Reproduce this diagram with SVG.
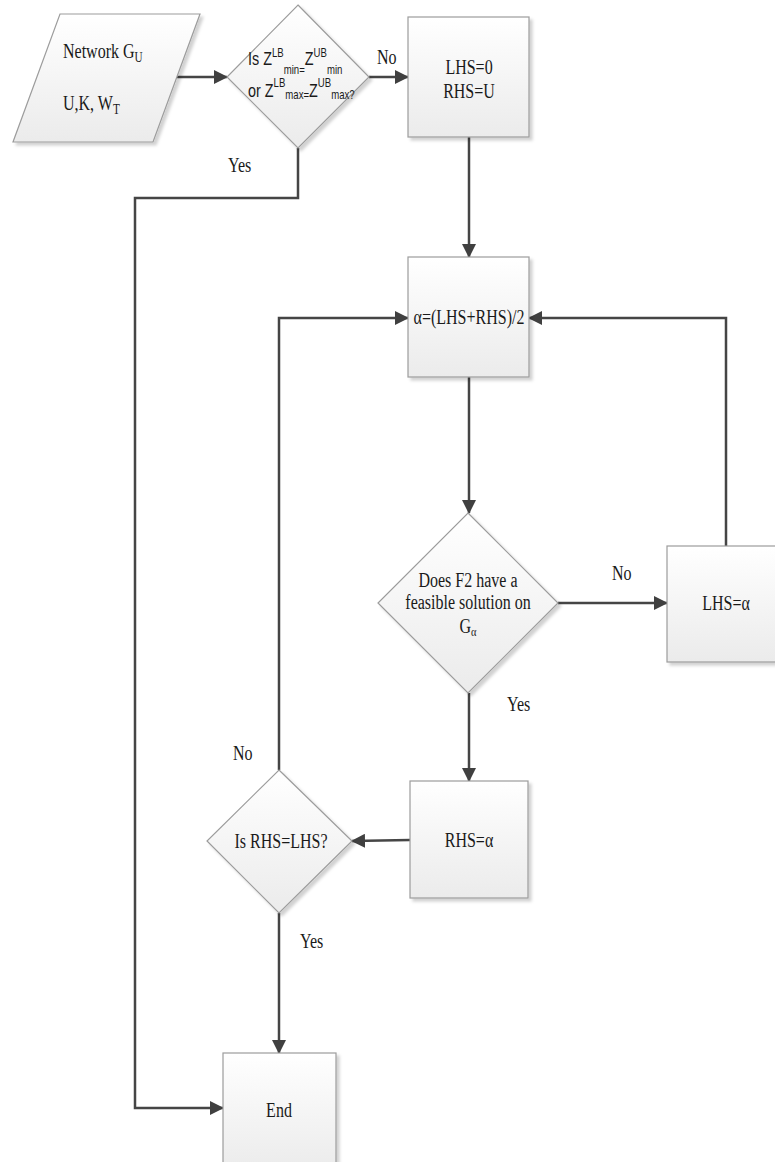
<svg xmlns="http://www.w3.org/2000/svg" width="775" height="1162" viewBox="0 0 775 1162">
<style>
.shape{fill:url(#g);stroke:#9c9c9c;stroke-width:1.2;filter:url(#sh)}
.t{font-family:"Liberation Serif","Times New Roman",serif;font-size:20px;fill:#1a1a1a}
.s{font-family:"Liberation Sans",Arial,sans-serif;font-size:18px;fill:#1a1a1a}
.c{fill:none;stroke:#454545;stroke-width:2.5}
</style>
<defs>
<linearGradient id="g" x1="0" y1="0" x2="0" y2="1">
<stop offset="0" stop-color="#ffffff"/>
<stop offset="1" stop-color="#ebebeb"/>
</linearGradient>
<filter id="sh" x="-10%" y="-10%" width="130%" height="130%">
<feDropShadow dx="3" dy="3" stdDeviation="1.5" flood-color="#000" flood-opacity="0.18"/>
</filter>
<marker id="arr" markerWidth="14" markerHeight="14" refX="13" refY="7" orient="auto" markerUnits="userSpaceOnUse">
<path d="M0,0 L14,7 L0,14 z" fill="#404040"/>
</marker>
</defs>

<g id="connectors">
<path class="c" d="M176,77 L227,77" marker-end="url(#arr)"/>
<path class="c" d="M369,77 L408,77" marker-end="url(#arr)"/>
<path class="c" d="M469,137 L469,257" marker-end="url(#arr)"/>
<path class="c" d="M469,377 L469,513" marker-end="url(#arr)"/>
<path class="c" d="M558,603 L667,603" marker-end="url(#arr)"/>
<path class="c" d="M726,546 L726,318 L529,318" marker-end="url(#arr)"/>
<path class="c" d="M469,693 L469,781" marker-end="url(#arr)"/>
<path class="c" d="M410,840 L352,841" marker-end="url(#arr)"/>
<path class="c" d="M279,770 L279,318 L408,318" marker-end="url(#arr)"/>
<path class="c" d="M279,913 L279,1053" marker-end="url(#arr)"/>
<path class="c" d="M298,148 L298,198 L135,198 L135,1108 L223,1108" marker-end="url(#arr)"/>
<text class="t" transform="translate(377,64) scale(0.8,1)">No</text>
<text class="t" transform="translate(228,172) scale(0.8,1)">Yes</text>
<text class="t" transform="translate(612,580) scale(0.8,1)">No</text>
<text class="t" transform="translate(507,711) scale(0.8,1)">Yes</text>
<text class="t" transform="translate(233,760) scale(0.8,1)">No</text>
<text class="t" transform="translate(300,948) scale(0.8,1)">Yes</text>
</g>

<g id="input">
<polygon class="shape" points="60,14 200,14 153,142 13,142"/>
<text class="t" transform="translate(63,58) scale(0.8,1)">Network G<tspan font-size="14" dy="4">U</tspan></text>
<text class="t" transform="translate(63,110) scale(0.8,1)">U,K, W<tspan font-size="14" dy="4">T</tspan></text>
</g>

<g id="decision1">
<polygon class="shape" points="298,5 369,77 298,148 227,77"/>
<text class="s" transform="translate(248,65) scale(0.8,1)">Is Z<tspan font-size="12" dy="-8">LB</tspan><tspan font-size="12" dy="17">min=</tspan><tspan dy="-9">Z</tspan><tspan font-size="12" dy="-8">UB</tspan><tspan font-size="12" dy="17">min</tspan></text>
<text class="s" transform="translate(248,97) scale(0.8,1)">or Z<tspan font-size="12" dy="-10">LB</tspan><tspan font-size="12" dy="12">max=</tspan><tspan dy="-2">Z</tspan><tspan font-size="12" dy="-10">UB</tspan><tspan font-size="12" dy="12">max?</tspan></text>
</g>

<g id="init">
<rect class="shape" x="408" y="17" width="121" height="120"/>
<text class="t" text-anchor="middle" transform="translate(469,74) scale(0.8,1)">LHS=0</text>
<text class="t" text-anchor="middle" transform="translate(469,98) scale(0.8,1)">RHS=U</text>
</g>

<g id="alpha">
<rect class="shape" x="408" y="257" width="121" height="120"/>
<text class="t" text-anchor="middle" transform="translate(469,324) scale(0.8,1)">α=(LHS+RHS)/2</text>
</g>

<g id="decision2">
<polygon class="shape" points="468,513 558,603 468,693 378,603"/>
<text class="t" text-anchor="middle" transform="translate(468,587) scale(0.8,1)">Does F2 have a</text>
<text class="t" text-anchor="middle" transform="translate(468,609) scale(0.8,1)">feasible solution on</text>
<text class="t" text-anchor="middle" transform="translate(468,633) scale(0.8,1)">G<tspan font-size="13" dy="3">α</tspan></text>
</g>

<g id="lhs">
<rect class="shape" x="667" y="546" width="118" height="116"/>
<text class="t" text-anchor="middle" transform="translate(726,610) scale(0.8,1)">LHS=α</text>
</g>

<g id="rhs">
<rect class="shape" x="410" y="781" width="118" height="117"/>
<text class="t" text-anchor="middle" transform="translate(469,847) scale(0.8,1)">RHS=α</text>
</g>

<g id="decision3">
<polygon class="shape" points="279,770 352,841 279,913 207,841"/>
<text class="t" text-anchor="middle" transform="translate(281,848) scale(0.8,1)">Is RHS=LHS?</text>
</g>

<g id="end">
<rect class="shape" x="223" y="1053" width="113" height="118"/>
<text class="t" text-anchor="middle" transform="translate(279,1117) scale(0.8,1)">End</text>
</g>
</svg>
